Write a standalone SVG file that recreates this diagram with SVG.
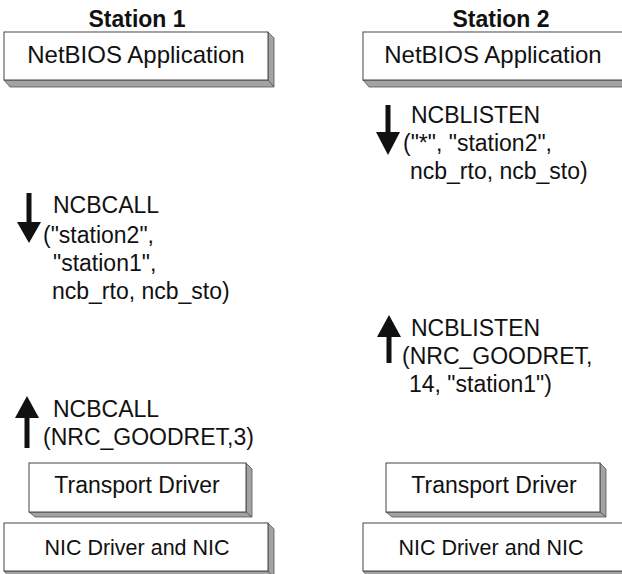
<svg xmlns="http://www.w3.org/2000/svg" width="622" height="574" viewBox="0 0 622 574">
<style>
text{font-family:"Liberation Sans",Arial,sans-serif;fill:#111}
.title{font-size:23px;font-weight:bold;text-anchor:middle}
.box{fill:#fff;stroke:#444;stroke-width:1}
.sh{fill:#a3a3a3;stroke:#555;stroke-width:0.8}
.bl{font-size:22.5px;text-anchor:middle}
.lb{font-size:23px}
.arr{fill:#111}
</style>
<rect width="622" height="574" fill="#fff"/>
<text class="title" x="137" y="27">Station 1</text>
<text class="title" x="501" y="27">Station 2</text>

<g id="app1">
<polygon class="sh" points="268,32 274,38 274,87 268,80"/>
<polygon class="sh" points="4,80 268,80 274,87 10,87"/>
<rect class="box" x="4" y="32" width="264" height="48"/>
<text class="bl" x="136" y="63" style="font-size:24px">NetBIOS Application</text>
</g>
<g id="app2">
<polygon class="sh" points="363,80 630,80 636,87 369,87"/>
<rect class="box" x="363" y="32" width="267" height="48"/>
<text class="bl" x="493" y="63" style="font-size:24px">NetBIOS Application</text>
</g>
<g id="transport1">
<polygon class="sh" points="246,463 252,469 252,517 246,512"/>
<polygon class="sh" points="29,512 246,512 252,517 35,517"/>
<rect class="box" x="29" y="463" width="217" height="49"/>
<text class="bl" x="137" y="493" style="font-size:23px">Transport Driver</text>
</g>
<g id="transport2">
<polygon class="sh" points="600,463 606,469 606,517 600,512"/>
<polygon class="sh" points="386,512 600,512 606,517 392,517"/>
<rect class="box" x="386" y="463" width="214" height="49"/>
<text class="bl" x="494" y="493" style="font-size:23px">Transport Driver</text>
</g>
<g id="nic1">
<polygon class="sh" points="268,523 274,529 274,578 268,571"/>
<polygon class="sh" points="4,571 268,571 274,578 10,578"/>
<rect class="box" x="4" y="523" width="264" height="48"/>
<text class="bl" x="137" y="555" style="font-size:21.5px">NIC Driver and NIC</text>
</g>
<g id="nic2">
<polygon class="sh" points="363,571 630,571 636,578 369,578"/>
<rect class="box" x="363" y="523" width="267" height="48"/>
<text class="bl" x="491" y="555" style="font-size:21.5px">NIC Driver and NIC</text>
</g>

<g id="connectors">
<rect class="arr" x="26.5" y="193" width="5" height="30"/>
<polygon class="arr" points="17,222 41,222 29,243"/>
<rect class="arr" x="24.5" y="417" width="5" height="31"/>
<polygon class="arr" points="15,418 39,418 27,396"/>
<rect class="arr" x="385.5" y="105" width="5" height="28"/>
<polygon class="arr" points="376,132 400,132 388,155"/>
<rect class="arr" x="386.5" y="336" width="5" height="27"/>
<polygon class="arr" points="377,337 401,337 389,315"/>
</g>

<g id="labels">
<text class="lb" x="53" y="213">NCBCALL</text>
<text class="lb" x="43" y="243">(&quot;station2&quot;,</text>
<text class="lb" x="53" y="271">&quot;station1&quot;,</text>
<text class="lb" x="52" y="299">ncb_rto, ncb_sto)</text>
<text class="lb" x="53" y="417">NCBCALL</text>
<text class="lb" x="43" y="445">(NRC_GOODRET,3)</text>
<text class="lb" x="411" y="123">NCBLISTEN</text>
<text class="lb" x="403" y="151">(&quot;*&quot;, &quot;station2&quot;,</text>
<text class="lb" x="410" y="179">ncb_rto, ncb_sto)</text>
<text class="lb" x="411" y="336">NCBLISTEN</text>
<text class="lb" x="402" y="364">(NRC_GOODRET,</text>
<text class="lb" x="409" y="392">14, &quot;station1&quot;)</text>
</g>
</svg>
